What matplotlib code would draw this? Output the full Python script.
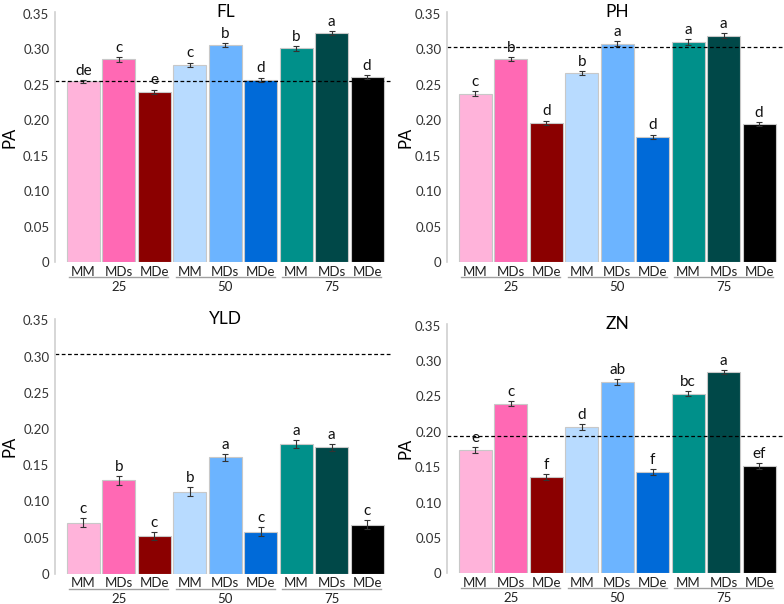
import numpy as np
import matplotlib.pyplot as plt
import matplotlib.transforms as mtransforms

plt.rcParams['font.family'] = ['Lato', 'DejaVu Sans']

treat = ['MM', 'MDs', 'MDe'] * 3
groups = ['25', '50', '75']
colors = ['#ffb3da', '#ff69b4', '#8b0000',
          '#b8dbff', '#6cb4ff', '#006ad8',
          '#00908a', '#004848', '#000000']

titles = ['FL', 'PH', 'YLD', 'ZN']

fl = [0.2545, 0.2854, 0.2400, 0.2780, 0.3055, 0.2568, 0.3008, 0.3224, 0.2605]
fl_err = [0.002, 0.003, 0.003, 0.003, 0.003, 0.003, 0.003, 0.003, 0.003]
fl_let = ['de', 'c', 'e', 'c', 'b', 'd', 'b', 'a', 'd']
fl_ref = 0.2545

ph = [0.2372, 0.2860, 0.1963, 0.2663, 0.3077, 0.1766, 0.3095, 0.3190, 0.1945]
ph_err = [0.004, 0.003, 0.003, 0.003, 0.003, 0.003, 0.004, 0.003, 0.003]
ph_let = ['c', 'b', 'd', 'b', 'a', 'd', 'a', 'a', 'd']
ph_ref = 0.303

yld = [0.0705, 0.1290, 0.0520, 0.1134, 0.1610, 0.0580, 0.1793, 0.1747, 0.0680]
yld_err = [0.006, 0.006, 0.006, 0.006, 0.005, 0.006, 0.005, 0.005, 0.006]
yld_let = ['c', 'b', 'c', 'b', 'a', 'c', 'a', 'a', 'c']
yld_ref = 0.303

zn = [0.1747, 0.2400, 0.1362, 0.2071, 0.2700, 0.1428, 0.2540, 0.2846, 0.1520]
zn_err = [0.004, 0.004, 0.004, 0.004, 0.004, 0.004, 0.004, 0.003, 0.004]
zn_let = ['e', 'c', 'f', 'd', 'ab', 'f', 'bc', 'a', 'ef']
zn_ref = 0.1935

data = [(fl, fl_err, fl_let, fl_ref), (ph, ph_err, ph_let, ph_ref),
        (yld, yld_err, yld_let, yld_ref), (zn, zn_err, zn_let, zn_ref)]

pos = [[0.070, 0.566, 0.43, 0.414], [0.570, 0.566, 0.43, 0.414],
       [0.070, 0.050, 0.43, 0.422], [0.570, 0.051, 0.43, 0.412]]
label_x = [-0.11, -0.10, -0.11, -0.10]

fig = plt.figure(figsize=(7.84, 6.04), dpi=100)
x = np.arange(9)

for i in range(4):
    vals, err, let, ref = data[i]
    ax = fig.add_axes(pos[i])
    ax.bar(x, vals, width=0.93, color=colors, edgecolor='#c8c8c8', linewidth=0.8)
    ax.errorbar(x, vals, yerr=err, fmt='none', ecolor='#333333', elinewidth=0.8,
                capsize=2, capthick=0.8)
    for xi, v, e, l in zip(x, vals, err, let):
        ax.annotate(l, (xi, v + e), xytext=(0, 1.5), textcoords='offset points',
                    ha='center', va='bottom', fontsize=11, color='#111111')
    ax.axhline(ref, color='black', linestyle='--', linewidth=0.9, dashes=(3, 2))
    ax.set_xlim(-0.8, 8.7)
    ax.set_ylim(0, 0.352)
    ax.set_yticks(np.arange(0, 0.36, 0.05))
    ax.set_yticklabels(['0', '0.05', '0.10', '0.15', '0.20', '0.25', '0.30', '0.35'])
    ax.set_xticks(x)
    ax.set_xticklabels(treat)
    ax.tick_params(axis='x', length=0, pad=2.5, labelsize=9.5, colors='#222222')
    ax.tick_params(axis='y', length=0, pad=4, labelsize=9.5, colors='#333333')
    for s in ['top', 'right', 'bottom']:
        ax.spines[s].set_visible(False)
    ax.spines['left'].set_color('#d0d0d0')
    ax.spines['left'].set_linewidth(1.2)
    ax.set_ylabel('PA', fontsize=12)
    ax.yaxis.set_label_coords(label_x[i], 0.5)
    ax.text(4, 0.352, titles[i], ha='center', va='center', fontsize=12.5)

    trans = mtransforms.blended_transform_factory(ax.transData, ax.transAxes)
    line_tr = trans + mtransforms.ScaledTranslation(0, -15 / 100, fig.dpi_scale_trans)
    for g in range(3):
        ax.plot([3 * g - 0.4, 3 * g + 2.4], [0, 0], color='#a0a0a0', linewidth=1,
                transform=line_tr, clip_on=False)
        ax.annotate(groups[g], (3 * g + 1, 0), xycoords=trans, xytext=(0, -13.5),
                    textcoords='offset points', ha='center', va='top', fontsize=9.5,
                    color='#222222')

fig.savefig('out.png', dpi=100)
